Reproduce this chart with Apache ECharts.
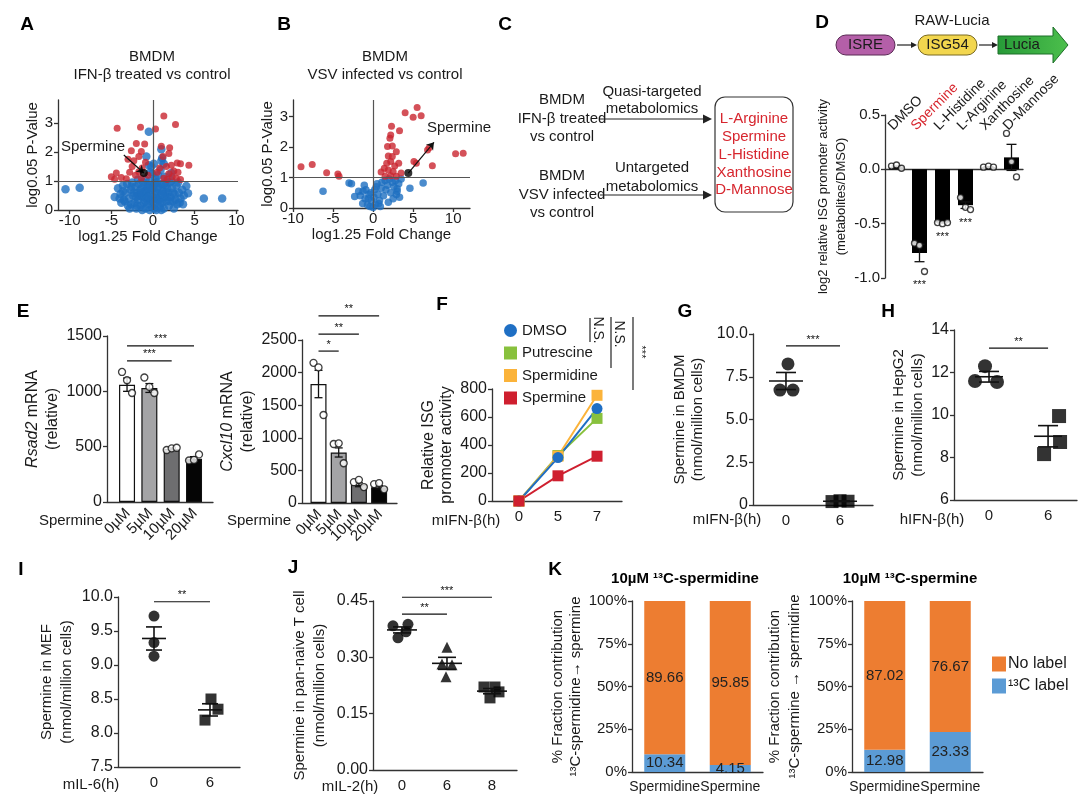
<!DOCTYPE html>
<html><head><meta charset="utf-8">
<script src="https://cdn.jsdelivr.net/npm/echarts@6/dist/echarts.min.js"></script>
<style>html,body{margin:0;padding:0;background:#fff}#c{width:1080px;height:810px}</style>
</head><body><div id="c"></div>
<script>
// ================= DATA =================
// A volcano (x: log1.25 fold change, y: log0.05 p-value)
const volARed = [[-4.3,2.82],[-1.5,2.86],[0.3,2.8],[1.3,3.25],[2.7,2.95],[-2.0,2.3],[-1.0,2.28],[-2.6,2.05],[-1.4,2.02],[-1.7,1.85],[-3.0,1.75],[-2.3,1.7],[-0.9,1.65],[-2.5,1.5],[-1.3,1.45],[-4.4,1.28],[-5.0,1.15],[-4.6,1.06],[-3.8,1.12],[-3.2,1.08],[-2.8,1.3],[-2.1,1.2],[-1.7,1.32],[-0.6,1.2],[-1.4,1.1],[1.0,2.2],[2.0,2.15],[1.9,1.95],[1.2,1.85],[2.9,1.62],[3.3,1.6],[4.3,1.55],[2.2,1.55],[1.6,1.5],[0.8,1.45],[3.0,1.3],[2.5,1.35],[1.9,1.25],[2.3,1.15],[2.8,1.1],[1.3,1.1],[3.3,1.05],[0.5,1.3],[1.7,1.05]];
const volABlue = [[-10.5,0.72],[-8.8,0.77],[6.1,0.4],[8.3,0.4],[4.2,0.58],[4.0,0.83],[-3.5,0.35],[-4.6,0.45],
 [-0.5,2.7],[1.0,2.1],[-0.8,1.85],[1.1,1.8],[-0.5,1.55],[1.3,1.6],[0.9,1.38],[-0.3,1.3],[2.2,1.28],[-0.9,1.05],[0.3,1.1],[1.4,1.15],[-1.8,1.05],[2.2,1.0],[-0.1,1.25],[0.6,1.2],[-0.2,1.5],[0.1,1.6],[1.0,1.7],
 [-4.2,0.75],[-3.9,0.55],[-3.6,0.85],[-3.3,0.6],[-3.1,0.9],[-2.9,0.4],[-2.7,0.7],[-2.5,0.95],[-2.4,0.5],[-2.2,0.25],[-2.1,0.8],[-1.9,0.6],[-1.8,0.35],[-1.7,0.9],[-1.5,0.15],[-1.5,0.7],[-1.3,0.45],[-1.2,0.95],[-1.1,0.25],[-1.0,0.65],[-0.9,0.05],[-0.8,0.4],[-0.7,0.85],[-0.6,0.2],[-0.5,0.55],[-0.4,1.0],[-0.3,0.3],[-0.2,0.7],[-0.1,0.1],[0.0,0.45],[0.1,0.85],[0.2,0.2],[0.3,0.6],[0.4,0.0],[0.5,0.95],[0.6,0.35],[0.7,0.7],[0.8,0.1],[0.9,0.5],[1.0,0.9],[1.1,0.25],[1.2,0.65],[1.3,0.05],[1.4,0.45],[1.5,0.85],[1.6,0.3],[1.8,0.6],[1.9,0.15],[2.0,0.95],[2.1,0.45],[2.3,0.75],[2.4,0.3],[2.6,0.55],[2.8,0.85],[2.9,0.2],[3.1,0.6],[3.3,0.4],[3.5,0.7],[3.7,0.5],[-3.0,0.15],[-2.0,0.05],[-0.4,0.0],[0.2,0.05],[1.0,0.0],[-1.3,0.0],[-2.6,0.2],[0.0,0.75],[-0.2,0.35],[0.5,0.6],[-0.8,0.6],[1.7,0.75],[-1.6,0.5],[2.5,0.05],[-3.4,0.3],[3.0,0.95],[-2.3,0.6],[-1.2,0.8],[0.7,0.35],[1.5,0.6],[2.7,0.35],[-0.6,0.75],[0.4,0.4],[-1.9,0.15],[3.6,0.2],[-3.8,0.25],
 [-2.8,0.05],[-1.7,0.5],[-0.9,0.3],[0.1,0.3],[0.9,0.25],[1.7,0.45],[2.4,0.6],[-3.6,0.65],[-2.0,0.45],[-0.3,0.85],[0.6,0.8],[1.3,0.9],[2.0,0.3],[-1.4,0.6],[-0.6,0.45],[0.2,0.95],[1.1,0.55],[-2.6,0.8],[3.2,0.25],[-4.0,0.4]];
const volASpermine = [[-1.1,1.28]];
// B volcano
const volBRed = [[-9.0,1.36],[-7.6,1.43],[-5.8,1.16],[-4.4,1.12],[-4.25,1.04],[4.0,3.13],[5.5,3.3],[5.0,2.98],[6.0,3.03],[2.3,2.69],[3.3,2.54],[2.2,2.4],[2.1,2.29],[1.8,2.02],[2.4,2.04],[1.9,1.71],[2.4,1.69],[2.9,1.85],[1.7,1.47],[2.2,1.53],[2.7,1.38],[3.2,1.47],[1.4,1.31],[1.9,1.25],[1.0,1.18],[2.5,1.2],[2.9,1.04],[1.5,1.04],[2.2,1.06],[3.5,1.15],[5.1,1.53],[5.4,1.47],[7.4,1.39],[6.8,1.91],[7.0,1.98],[10.3,1.78],[11.25,1.8]];
const volBBlue = [[-6.25,0.55],[-3.0,0.82],[-2.7,0.8],[-2.3,0.38],[-1.8,0.55],[-1.6,0.4],[-1.3,0.15],[-1.25,0.55],[-1.0,0.3],[-0.9,0.6],[-0.7,0.1],[-0.5,0.45],[-0.4,0.05],[-0.2,0.25],[0.0,0.02],[0.1,0.35],[0.2,0.6],[0.3,0.12],[0.5,0.8],[0.6,0.45],[0.8,0.25],[1.0,0.65],[1.1,0.85],[1.3,0.4],[1.5,0.9],[1.6,0.6],[1.8,0.75],[2.0,0.95],[2.2,0.5],[2.4,0.85],[2.6,0.7],[2.8,0.9],[3.0,0.55],[3.2,0.8],[3.3,0.35],[3.5,0.95],[1.9,0.19],[2.9,0.44],[3.0,0.63],[4.6,0.65],[6.25,0.82],[-1.1,0.75],[0.4,0.7],[-0.3,0.5],[0.9,0.05],[2.5,0.3],[0.7,0.15],[-0.6,0.3]];
const volBSpermine = [[4.4,1.15]];
const volTicksX = [-10,-5,0,5,10];
const volTicksAY = [0,1,2,3];
const volTicksBY = [0,1,2,3];
// annotation anchors (arrow ends in data units)
const annotAArrowFrom = [-3.5,1.9];
const annotBArrowTo = [7.6,2.16];

// D
const dCategories = ['DMSO','Spermine','L-Histidine','L-Arginine','Xanthosine','D-Mannose'];
const dMeans = [0.02,-0.77,-0.49,-0.33,0.02,0.11];
const dSE = [0.01,0.08,0.005,0.03,0.005,0.12];
const dPoints = [[0.03,0.04,0.01],[-0.68,-0.70,-0.94],[-0.49,-0.50,-0.49],[-0.26,-0.35,-0.37],[0.02,0.03,0.02],[0.33,0.07,-0.07]];
const dStars = ['','***','***','***','',''];

// E
const eCategories = ['0µM','5µM','10µM','20µM'];
const eRsad2Means = [1060,1030,480,390];
const eRsad2SE = [60,40,8,20];
const eRsad2Points = [[1175,1100,985],[1125,1040,985],[470,485,490],[375,380,430]];
const eRsad2Sig = [[0,2,1275],[0,3,1410]];
const eRsad2SigLabels = ['***','***'];
const eCxcl10Means = [1825,775,280,240];
const eCxcl10SE = [210,70,30,25];
const eCxcl10Points = [[2150,2080,1350],[905,915,610],[320,355,245],[290,305,210]];
const eCxcl10Sig = [[0,1,2330],[0,2,2590],[0,3,2870]];
const eCxcl10SigLabels = ['*','**','**'];

// F
const fCategories = ['0','5','7'];
const fDMSO = [0,310,660];
const fPutrescine = [0,325,590];
const fSpermidine = [0,320,755];
const fSpermine = [0,180,320];

// G
const gCategories = ['0','6'];
const gPoints = [[8.25,6.72,6.72],[0.20,0.25,0.22]];
const gMean = [7.25,0.22];
const gSE = [0.5,0.02];
const gSig = [[0,1,9.3]]; const gSigLabels = ['***'];
// H
const hCategories = ['0','6'];
const hPoints = [[12.3,11.6,11.55],[9.95,8.73,8.16]];
const hMean = [11.8,9.0];
const hSE = [0.25,0.5];
const hSig = [[0,1,13.15]]; const hSigLabels = ['**'];
// I
const iCategories = ['0','6'];
const iPoints = [[9.72,9.33,9.13],[8.5,8.35,8.19]];
const iMean = [9.39,8.34];
const iSE = [0.17,0.09];
const iSig = [[0,1,9.93]]; const iSigLabels = ['**'];
// J
const jCategories = ['0','6','8'];
const jPoints = [[0.384,0.388,0.368,0.352],[0.327,0.282,0.280,0.248],[0.221,0.221,0.208,0.192]];
const jMean = [0.373,0.284,0.210];
const jSE = [0.008,0.016,0.007];
const jSig = [[0,1,0.415],[0,2,0.46]]; const jSigLabels = ['**','***'];
// K
const kCategories = ['Spermidine','Spermine'];
const kLeftLabeled = [10.34,4.15];
const kLeftUnlabeled = [89.66,95.85];
const kRightLabeled = [12.98,23.33];
const kRightUnlabeled = [87.02,76.67];

// ================= STYLE =================
const FONT = "'Liberation Sans', Arial, Helvetica, sans-serif";
const AX = '#333', TXT = '#1a1a1a', RED = '#c9262f', BLUE = '#1e6fc0', CRED = '#d7262e';
const eColors = ['#ffffff','#a4a4a6','#6e6e70','#050505'];
const dotJit3 = [-5,0,5];
const gJit = [[2,-6,7],[-8,0,8]];
const hJit = [[-4,-14,8],[11,12,-4]];
const iJit = [[0,0,0],[1,8,-5]];
const jJit = [[-9,6,4,-4],[0,-5,5,-1],[-8,3,7,-2]];

function merge(a,b){ for(const k in b){ const v=b[k]; if(v&&typeof v==='object'&&!Array.isArray(v)&&a[k]&&typeof a[k]==='object'&&!Array.isArray(a[k])) merge(a[k],v); else a[k]=v; } return a; }
function baseAxis(g){ return {gridIndex:g, axisLine:{show:true,onZero:false,lineStyle:{color:AX,width:1.3}}, axisTick:{show:true,length:4,lineStyle:{color:AX,width:1.3}}, splitLine:{show:false}, axisLabel:{fontSize:15,color:TXT,fontFamily:FONT,margin:5,showMinLabel:true,showMaxLabel:true,hideOverlap:false}, nameTextStyle:{fontSize:15,color:TXT,fontFamily:FONT}}; }
function catValAxis(g,min,max,cats,extra){
  const idx = cats.map((c,i)=>i);
  return merge(baseAxis(g), merge({type:'value',min:min,max:max,axisTick:{show:false},axisLabel:{customValues:idx,formatter:v=>cats[Math.round(v)]||'',margin:8}}, extra||{}));
}
function yAxisOf(g,extra){ return merge(baseAxis(g), merge({type:'value', nameLocation:'middle', nameRotate:90}, extra)); }
const plain = v=>String(v);

const grids = [
 {left:58,top:100,width:180,height:110},
 {left:293,top:100,width:177,height:108},
 {left:885,top:115,width:138,height:163},
 {left:107,top:336,width:106,height:166},
 {left:302,top:340,width:95,height:163},
 {left:492,top:389,width:130,height:112},
 {left:753,top:334,width:120,height:171},
 {left:954,top:330,width:123,height:170},
 {left:118,top:597,width:122,height:170},
 {left:373,top:601,width:144,height:169},
 {left:632,top:601,width:131,height:171},
 {left:852,top:601,width:131,height:171}
];

const xAxes = [
 merge(baseAxis(0),{type:'value',min:-11.4,max:10.2,axisLabel:{customValues:volTicksX,margin:3},axisTick:{customValues:volTicksX},name:'log1.25 Fold Change',nameLocation:'middle',nameGap:17}),
 merge(baseAxis(1),{type:'value',min:-10,max:12.1,axisLabel:{customValues:volTicksX,margin:3},axisTick:{customValues:volTicksX},name:'log1.25 Fold Change',nameLocation:'middle',nameGap:17}),
 merge(baseAxis(2),{type:'category',data:dCategories,axisLine:{onZero:true},axisTick:{show:false},axisLabel:{show:false}}),
 catValAxis(3,-0.897,3.85,eCategories,{axisLabel:{show:false}}),
 catValAxis(4,-0.817,3.886,eCategories,{axisLabel:{show:false}}),
 catValAxis(5,-0.69,2.64,fCategories,{}),
 catValAxis(6,-0.61,1.61,gCategories,{}),
 catValAxis(7,-0.593,1.49,hCategories,{}),
 catValAxis(8,-0.643,1.536,iCategories,{}),
 catValAxis(9,-0.644,2.556,jCategories,{}),
 merge(baseAxis(10),{type:'category',data:kCategories,axisTick:{show:false},axisLabel:{fontSize:14,margin:8,interval:0}}),
 merge(baseAxis(11),{type:'category',data:kCategories,axisTick:{show:false},axisLabel:{fontSize:14,margin:8,interval:0}})
];

const yAxes = [
 yAxisOf(0,{min:0,max:3.8,axisLabel:{customValues:volTicksAY},axisTick:{customValues:volTicksAY},name:'log0.05 P-Value',nameGap:14}),
 yAxisOf(1,{min:0,max:3.55,axisLabel:{customValues:volTicksBY},axisTick:{customValues:volTicksBY},name:'log0.05 P-Value',nameGap:12}),
 yAxisOf(2,{min:-1,max:0.5,interval:0.5,axisLabel:{formatter:v=>v.toFixed(1)},name:'log2 relative ISG promoter activity\n(metabolites/DMSO)',nameGap:35,nameTextStyle:{fontSize:13,lineHeight:18}}),
 yAxisOf(3,{min:0,max:1500,interval:500,axisLabel:{fontSize:16,formatter:plain},name:'{i|Rsad2} mRNA\n(relative)',nameGap:44,nameTextStyle:{fontSize:16,lineHeight:20,rich:{i:{fontStyle:'italic',fontSize:16,fontFamily:FONT,color:TXT}}}}),
 yAxisOf(4,{min:0,max:2500,interval:500,axisLabel:{fontSize:16,formatter:plain},name:'{i|Cxcl10} mRNA\n(relative)',nameGap:44,nameTextStyle:{fontSize:16,lineHeight:20,rich:{i:{fontStyle:'italic',fontSize:16,fontFamily:FONT,color:TXT}}}}),
 yAxisOf(5,{min:0,max:800,interval:200,axisLabel:{fontSize:16,formatter:plain},name:'Relative ISG\npromoter activity',nameGap:36,nameTextStyle:{fontSize:16,lineHeight:18}}),
 yAxisOf(6,{min:0,max:10,interval:2.5,axisLabel:{fontSize:16,formatter:v=>v===0?'0':v.toFixed(1)},name:'Spermine in BMDM\n(nmol/million cells)',nameGap:46,nameTextStyle:{fontSize:15,lineHeight:18}}),
 yAxisOf(7,{min:6,max:14,interval:2,axisLabel:{fontSize:16,formatter:plain},name:'Spermine in HepG2\n(nmol/million cells)',nameGap:27,nameTextStyle:{fontSize:15,lineHeight:19}}),
 yAxisOf(8,{min:7.5,max:10,interval:0.5,axisLabel:{fontSize:16,formatter:v=>v.toFixed(1)},name:'Spermine in MEF\n(nmol/million cells)',nameGap:41,nameTextStyle:{fontSize:15,lineHeight:20}}),
 yAxisOf(9,{min:0,max:0.45,interval:0.15,axisLabel:{fontSize:16,formatter:v=>v.toFixed(2)},name:'Spermine in pan-naive T cell\n(nmol/million cells)',nameGap:43,nameTextStyle:{fontSize:15,lineHeight:20}}),
 yAxisOf(10,{min:0,max:100,interval:25,axisLabel:{fontSize:15,formatter:'{value}%'},name:'% Fraction contribution\n¹³C-spermidine→ spermine',nameGap:46,nameTextStyle:{fontSize:15,lineHeight:18}}),
 yAxisOf(11,{min:0,max:100,interval:25,axisLabel:{fontSize:15,formatter:'{value}%'},name:'% Fraction contribution\n¹³C-spermine → spermidine',nameGap:42,nameTextStyle:{fontSize:15,lineHeight:20}})
];

// ---------- custom renderers ----------
function errorBarSeries(ax, means, ses, cap){
  return {type:'custom', xAxisIndex:ax, yAxisIndex:ax, z:4, silent:true,
    data: means.map((m,i)=>[i,m,ses[i]]),
    renderItem:(p,api)=>{
      const x=api.value(0), m=api.value(1), s=api.value(2);
      const t=api.coord([x,m+s]), b=api.coord([x,m-s]);
      const st={stroke:'#111',lineWidth:1.3};
      return {type:'group',children:[
        {type:'line',shape:{x1:t[0],y1:t[1],x2:b[0],y2:b[1]},style:st},
        {type:'line',shape:{x1:t[0]-cap,y1:t[1],x2:t[0]+cap,y2:t[1]},style:st},
        {type:'line',shape:{x1:b[0]-cap,y1:b[1],x2:b[0]+cap,y2:b[1]},style:st}]};
    }};
}
function meanSESeries(ax, means, ses, halfMean, halfCap){
  return {type:'custom', xAxisIndex:ax, yAxisIndex:ax, z:6, silent:true,
    data: means.map((m,i)=>[i,m,ses[i]]),
    renderItem:(p,api)=>{
      const x=api.value(0), m=api.value(1), s=api.value(2);
      const c=api.coord([x,m]), t=api.coord([x,m+s]), b=api.coord([x,m-s]);
      const st={stroke:'#111',lineWidth:1.6};
      return {type:'group',children:[
        {type:'line',shape:{x1:c[0]-halfMean,y1:c[1],x2:c[0]+halfMean,y2:c[1]},style:st},
        {type:'line',shape:{x1:t[0],y1:t[1],x2:b[0],y2:b[1]},style:st},
        {type:'line',shape:{x1:t[0]-halfCap,y1:t[1],x2:t[0]+halfCap,y2:t[1]},style:st},
        {type:'line',shape:{x1:b[0]-halfCap,y1:b[1],x2:b[0]+halfCap,y2:b[1]},style:st}]};
    }};
}
function sigSeries(ax, rows, labels){
  return {type:'custom', xAxisIndex:ax, yAxisIndex:ax, z:6, silent:true, clip:false,
    data: rows,
    renderItem:(p,api)=>{
      const a=api.coord([api.value(0),api.value(2)]), b=api.coord([api.value(1),api.value(2)]);
      return {type:'group',children:[
        {type:'line',shape:{x1:a[0],y1:a[1],x2:b[0],y2:b[1]},style:{stroke:'#111',lineWidth:1.2}},
        {type:'text',x:(a[0]+b[0])/2,y:a[1]-1,style:{text:labels[p.dataIndex],fill:'#111',fontSize:11,fontFamily:FONT,align:'center',verticalAlign:'bottom',textAlign:'center',textVerticalAlign:'bottom'}}]};
    }};
}
// rotated category labels placed through the axis scale
function catLabelSeries(ax, cats, atValue, o){
  return {type:'custom', xAxisIndex:ax, yAxisIndex:ax, z:7, silent:true, clip:false,
    data: cats.map((c,i)=>[i,atValue]),
    renderItem:(p,api)=>{
      const c=api.coord([api.value(0),api.value(1)]);
      const name=cats[p.dataIndex];
      return {type:'text',x:c[0]+o.dx,y:c[1]+o.dy,rotation:o.rot,
        style:{text:name,fill:(o.color&&o.color(name))||TXT,fontSize:o.size,fontFamily:FONT,align:o.align,verticalAlign:'middle',textAlign:o.align,textVerticalAlign:'middle'}};
    }};
}
function dotSeries(ax, groups, jit, symbols, size, filled){
  const out=[];
  groups.forEach((vals,i)=>{
    out.push({type:'scatter', xAxisIndex:ax, yAxisIndex:ax, z:5, silent:true,
      symbol: symbols[i]||symbols[0], symbolSize:size,
      itemStyle: filled?{color:'#000'}:{color:'#fff',borderColor:'#111',borderWidth:1.3},
      data: vals.map((v,k)=>({value:[i,v],symbolOffset:[(Array.isArray(jit[i])?jit[i]:jit)[k]||0,0]}))});
  });
  return out;
}

const series = [];
// A
series.push({type:'scatter',xAxisIndex:0,yAxisIndex:0,data:volABlue,symbolSize:8.5,itemStyle:{color:BLUE},silent:true,
  markLine:{silent:true,symbol:'none',label:{show:false},animation:false,lineStyle:{color:'#555',width:1.2,type:'solid'},data:[{yAxis:1},{xAxis:0}]}});
series.push({type:'scatter',xAxisIndex:0,yAxisIndex:0,data:volARed,symbolSize:7,itemStyle:{color:RED},silent:true});
series.push({type:'scatter',name:'A-spermine',xAxisIndex:0,yAxisIndex:0,data:volASpermine,symbolSize:8,itemStyle:{color:'#000'},z:5,silent:true,
  markLine:{silent:true,symbol:['none','arrow'],symbolSize:7,label:{show:false},animation:false,lineStyle:{color:'#111',width:1.2,type:'solid'},data:[[{coord:annotAArrowFrom},{coord:volASpermine[0]}]]}});
// B
series.push({type:'scatter',xAxisIndex:1,yAxisIndex:1,data:volBBlue,symbolSize:7.5,itemStyle:{color:BLUE},silent:true,
  markLine:{silent:true,symbol:'none',label:{show:false},animation:false,lineStyle:{color:'#555',width:1.2,type:'solid'},data:[{yAxis:1},{xAxis:0}]}});
series.push({type:'scatter',xAxisIndex:1,yAxisIndex:1,data:volBRed,symbolSize:7,itemStyle:{color:RED},silent:true});
series.push({type:'scatter',name:'B-spermine',xAxisIndex:1,yAxisIndex:1,data:volBSpermine,symbolSize:8,itemStyle:{color:'#000'},z:5,silent:true,
  markLine:{silent:true,symbol:['none','arrow'],symbolSize:7,label:{show:false},animation:false,lineStyle:{color:'#111',width:1.2,type:'solid'},data:[[{coord:volBSpermine[0]},{coord:annotBArrowTo}]]}});
// D
series.push({type:'bar',xAxisIndex:2,yAxisIndex:2,data:dMeans,barWidth:15,itemStyle:{color:'#000'},silent:true});
series.push(errorBarSeries(2,dMeans,dSE,5));
series.push(...dotSeries(2,dPoints,dotJit3,['circle'],6,false));
series.push({type:'custom',xAxisIndex:2,yAxisIndex:2,silent:true,clip:false,z:6,data:dPoints.map((v,i)=>[i,Math.min.apply(null,v)]),
  renderItem:(p,api)=>{const c=api.coord([api.value(0),api.value(1)]);return {type:'text',x:c[0],y:c[1]+13,style:{text:dStars[p.dataIndex],fill:'#111',fontSize:11,fontFamily:FONT,align:'center',verticalAlign:'middle',textAlign:'center',textVerticalAlign:'middle'}};}});
series.push(catLabelSeries(2,dCategories,0.5,{dx:-6,dy:13,rot:Math.PI/4,size:14,align:'left',color:n=>n==='Spermine'?CRED:null}));
// E
function eBars(ax, means){
  return {type:'bar',xAxisIndex:ax,yAxisIndex:ax,barWidth:16,silent:true,
    data: means.map((m,i)=>({value:[i,m],itemStyle:{color:eColors[i],borderColor:'#111',borderWidth:1.2}}))};
}
series.push(eBars(3,eRsad2Means), errorBarSeries(3,eRsad2Means,eRsad2SE,4), ...dotSeries(3,eRsad2Points,dotJit3,['circle'],7,false), sigSeries(3,eRsad2Sig,eRsad2SigLabels));
series.push(catLabelSeries(3,eCategories,0,{dx:1,dy:9,rot:Math.PI/4,size:15,align:'right'}));
series.push(eBars(4,eCxcl10Means), errorBarSeries(4,eCxcl10Means,eCxcl10SE,4), ...dotSeries(4,eCxcl10Points,dotJit3,['circle'],7,false), sigSeries(4,eCxcl10Sig,eCxcl10SigLabels));
series.push(catLabelSeries(4,eCategories,0,{dx:1,dy:9,rot:Math.PI/4,size:15,align:'right'}));
// F
function fLine(name,data,color,symbol){
  return {type:'line',name:name,xAxisIndex:5,yAxisIndex:5,data:data.map((v,i)=>[i,v]),symbol:symbol,symbolSize:11,
    lineStyle:{color:color,width:2},itemStyle:{color:color},showSymbol:true,silent:true};
}
series.push(fLine('Putrescine',fPutrescine,'#88c13d','rect'), fLine('Spermidine',fSpermidine,'#fbb33a','rect'), fLine('DMSO',fDMSO,'#1f6fc4','circle'), fLine('Spermine',fSpermine,'#cf1f2f','rect'));
// G H I J
series.push(...dotSeries(6,gPoints,gJit,['circle','rect'],13,true), meanSESeries(6,gMean,gSE,17,10), sigSeries(6,gSig,gSigLabels));
series.push(...dotSeries(7,hPoints,hJit,['circle','rect'],14,true), meanSESeries(7,hMean,hSE,14,10), sigSeries(7,hSig,hSigLabels));
series.push(...dotSeries(8,iPoints,iJit,['circle','rect'],11,true), meanSESeries(8,iMean,iSE,12,8), sigSeries(8,iSig,iSigLabels));
series.push(...dotSeries(9,jPoints,jJit,['circle','triangle','rect'],11,true), meanSESeries(9,jMean,jSE,15,9), sigSeries(9,jSig,jSigLabels));
// K
const KOR='#ed7d31', KBL='#5b9bd5';
const kLabel={show:true,position:'inside',fontSize:15,color:'#222',fontFamily:FONT,formatter:p=>Number(p.value).toFixed(2)};
series.push({type:'bar',name:'¹³C label',xAxisIndex:10,yAxisIndex:10,stack:'k1',data:kLeftLabeled,barWidth:41,itemStyle:{color:KBL},label:kLabel,silent:true});
series.push({type:'bar',name:'No label',xAxisIndex:10,yAxisIndex:10,stack:'k1',data:kLeftUnlabeled,barWidth:41,itemStyle:{color:KOR},label:kLabel,silent:true});
series.push({type:'bar',name:'¹³C label',xAxisIndex:11,yAxisIndex:11,stack:'k2',data:kRightLabeled,barWidth:41,itemStyle:{color:KBL},label:kLabel,silent:true});
series.push({type:'bar',name:'No label',xAxisIndex:11,yAxisIndex:11,stack:'k2',data:kRightUnlabeled,barWidth:41,itemStyle:{color:KOR},label:kLabel,silent:true});

// ---------- graphic annotations ----------
function T(x,y,text,o){ o=o||{}; return {type:'text',x:x,y:y,rotation:o.rot||0,silent:true,style:{text:text,fontSize:o.size||15,fontWeight:o.weight||'normal',fontFamily:FONT,fill:o.color||TXT,align:o.align||'center',verticalAlign:'middle',textAlign:o.align||'center',textVerticalAlign:'middle'}}; }
function L(x1,y1,x2,y2,w){ return {type:'line',silent:true,shape:{x1,y1,x2,y2},style:{stroke:'#222',lineWidth:w||1.2}}; }
function ARW(x1,y,x2,h){ return [L(x1,y,x2-h,y,1.2),{type:'polygon',silent:true,shape:{points:[[x2-h,y-h*0.5],[x2,y],[x2-h,y+h*0.5]]},style:{fill:'#222'}}]; }
const g = [];
[['A',27,25],['B',284,25],['C',505,25],['D',822,23],['E',23,312],['F',442,305],['G',685,312],['H',888,312],['I',21,570],['J',293,568],['K',555,570]].forEach(a=>g.push(T(a[1],a[2],a[0],{size:19,weight:'bold',color:'#000'})));
// A/B titles
g.push(T(152,57,'BMDM'),T(152,75,'IFN-β treated vs control'),T(385,57,'BMDM'),T(385,75,'VSV infected vs control'));
g.push(T(93,147,'Spermine'),T(459,128,'Spermine'));
// C
g.push(T(562,100,'BMDM'),T(562,119,'IFN-β treated'),T(562,137,'vs control'));
g.push(T(562,176,'BMDM'),T(562,195,'VSV infected'),T(562,213,'vs control'));
g.push(T(652,92,'Quasi-targeted'),T(652,109,'metabolomics'),T(652,168,'Untargeted'),T(652,187,'metabolomics'));
g.push(...ARW(600,119,712,9),...ARW(600,195,712,9));
g.push({type:'rect',silent:true,shape:{x:715,y:97,width:78,height:115,r:10},style:{fill:'none',stroke:'#333',lineWidth:1.2}});
['L-Arginine','Spermine','L-Histidine','Xanthosine','D-Mannose'].forEach((t,i)=>g.push(T(754,119+i*17.8,t,{color:CRED})));
// D header
g.push(T(952,21,'RAW-Lucia'));
g.push({type:'rect',silent:true,shape:{x:836,y:35,width:59,height:20,r:10},style:{fill:'#b45fa8',stroke:'#5a2a55',lineWidth:1}});
g.push(T(865.5,45,'ISRE'));
g.push(...ARW(897,45,917,6));
g.push({type:'rect',silent:true,shape:{x:918,y:35,width:59,height:20,r:10},style:{fill:'#f2d64e',stroke:'#7a6a20',lineWidth:1}});
g.push(T(947.5,45,'ISG54'));
g.push(...ARW(979,45,998,6));
g.push({type:'polygon',silent:true,shape:{points:[[998,36],[1053,36],[1053,27],[1068,45],[1053,63],[1053,54],[998,54]]},
  style:{fill:{type:'linear',x:0,y:0,x2:1,y2:0,colorStops:[{offset:0,color:'#279a38'},{offset:1,color:'#4cbf4c'}]},stroke:'#1d6e28',lineWidth:1}});
g.push(T(1022,45,'Lucia'));
// x-axis side names
g.push(T(71,521,'Spermine'),T(259,521,'Spermine'),T(466,521,'mIFN-β(h)'),T(727,520,'mIFN-β(h)'),T(932,520,'hIFN-β(h)'),T(91,785,'mIL-6(h)'),T(350,787,'mIL-2(h)'));
// F significance
g.push(L(590,318,590,342),L(611,317,611,368),L(633,317,633,390));
g.push(T(598,330,'N.S.',{rot:-Math.PI/2,size:14}),T(619,334,'N.S.',{rot:-Math.PI/2,size:14}),T(641,352,'***',{rot:-Math.PI/2,size:11}));
// K titles
g.push(T(685,579,'10µM ¹³C-spermidine',{weight:'bold',size:15,color:'#000'}),T(910,579,'10µM ¹³C-spermine',{weight:'bold',size:15,color:'#000'}));

const option = {
  animation:false,
  backgroundColor:'#fff',
  textStyle:{fontFamily:FONT},
  grid:grids, xAxis:xAxes, yAxis:yAxes, series:series, graphic:g,
  legend:[
    {data:[{name:'DMSO',icon:'circle'},{name:'Putrescine',icon:'rect'},{name:'Spermidine',icon:'rect'},{name:'Spermine',icon:'rect'}],
     orient:'vertical',left:499,top:318,itemWidth:13,itemHeight:13,itemGap:7.5,selectedMode:false,textStyle:{fontSize:15,color:TXT,fontFamily:FONT}},
    {data:[{name:'No label',icon:'rect'},{name:'¹³C label',icon:'rect'}],
     orient:'vertical',left:987,top:651,itemWidth:14,itemHeight:15,itemGap:6,itemStyle:{borderWidth:0},selectedMode:false,textStyle:{fontSize:16,color:TXT,fontFamily:FONT,padding:[0,0,0,-3]}}
  ]
};
const chart = echarts.init(document.getElementById('c'), null, {renderer:'canvas', width:1080, height:810});
chart.setOption(option);
</script>
</body></html>
